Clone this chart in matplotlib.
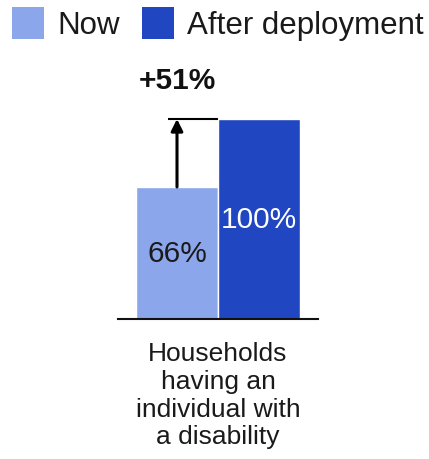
import matplotlib
matplotlib.use("Agg")
import matplotlib.pyplot as plt
from matplotlib.patches import Rectangle

plt.rcParams['font.family'] = ['Liberation Sans', 'DejaVu Sans']

category = "Households\nhaving an\nindividual with\na disability"
series = ["Now", "After deployment"]
values = [66, 100]
colors = ["#8ca6ec", "#2146c2"]
text_colors = ["#1a1a1a", "#ffffff"]
change_label = "+51%"

W, H = 429, 460
fig = plt.figure(figsize=(W / 100, H / 100), dpi=100)
ax = fig.add_axes([118 / W, (H - 320) / H, 200 / W, 200 / H])

xs = [-0.5, 0.5]
bars = ax.bar(xs, values, width=1.0, color=colors, edgecolor="white", linewidth=1)
for x, v, tc in zip(xs, values, text_colors):
    ax.text(x, v / 2, f"{v}%", ha="center", va="center", fontsize=21.5, color=tc)

ax.set_xlim(-100 / 82, 100 / 82)
ax.set_ylim(0, 100)
for s in ["top", "left", "right"]:
    ax.spines[s].set_visible(False)
ax.spines["bottom"].set_linewidth(1.5)
ax.spines["bottom"].set_color("#111111")
ax.set_yticks([])
ax.set_xticks([])

# change annotation
ax.plot([-0.61, 0], [values[1], values[1]], color="black", lw=1.5, solid_capstyle="butt", clip_on=False)
ax.annotate("", xy=(xs[0], values[1]), xytext=(xs[0], values[0]),
            arrowprops=dict(arrowstyle="-|>,head_length=0.7,head_width=0.35", color="black", lw=2.2,
                            shrinkA=0, shrinkB=0), annotation_clip=False)
ax.text(xs[0], 119.5, change_label, ha="center", va="center", fontsize=21.5, fontweight="bold", color="#111111")

# category label
fig.text(218 / W, 1 - 342 / H, category, ha="center", va="top", fontsize=19, color="#1a1a1a", linespacing=1.2)

# legend
sq = [(12, 8), (142, 8)]
tx = [57, 187]
for (sx, sy), t, c, name in zip(sq, tx, colors, series):
    fig.patches.append(Rectangle((sx / W, 1 - (sy + 32) / H), 32 / W, 32 / H, transform=fig.transFigure,
                                 facecolor=c, edgecolor="none"))
    fig.text(t / W, 1 - 26 / H, name, ha="left", va="center", fontsize=22.5, color="#1a1a1a")

fig.savefig("out.png", dpi=100)
